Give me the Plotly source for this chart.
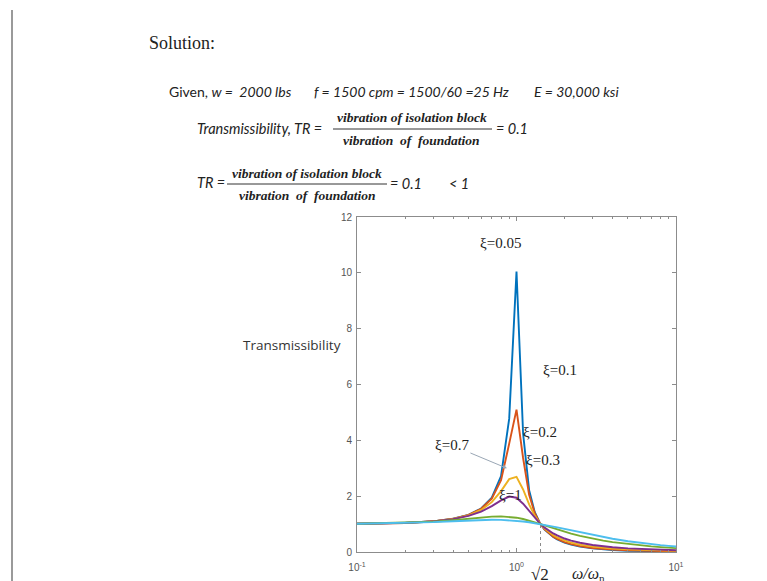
import plotly.graph_objects as go

# page body has an 8px default margin: the figure is placed at (8, 8)
OFF = 8
W, H = 767 - OFF, 581 - OFF

# ---- data ----
freq_ratio = [0.1, 0.2, 0.3, 0.4, 0.5, 0.6, 0.7, 0.8, 0.9, 1.0,
              1.1, 1.2, 1.3, 1.4, 1.5, 1.6, 1.7, 1.8, 1.9, 2.0,
              2.2, 2.5, 3.0, 3.5, 4.0, 5.0, 6.0, 7.0, 8.0, 9.0, 10.0]

tr_z005 = [1.010, 1.042, 1.099, 1.190, 1.332, 1.559, 1.947, 2.720, 4.776, 10.05,
           4.244, 2.208, 1.436, 1.041, 0.803, 0.646, 0.535, 0.452, 0.389, 0.339,
           0.266, 0.196, 0.130, 0.094, 0.072, 0.047, 0.033, 0.025, 0.020, 0.017, 0.014]
tr_z01 = [1.010, 1.042, 1.099, 1.189, 1.328, 1.547, 1.909, 2.571, 3.882, 5.099,
          3.367, 2.052, 1.401, 1.039, 0.812, 0.659, 0.550, 0.469, 0.406, 0.356,
          0.283, 0.212, 0.145, 0.108, 0.085, 0.059, 0.045, 0.036, 0.030, 0.026, 0.023]
tr_z02 = [1.010, 1.041, 1.097, 1.184, 1.314, 1.505, 1.785, 2.180, 2.611, 2.693,
          2.241, 1.704, 1.305, 1.031, 0.841, 0.704, 0.602, 0.524, 0.462, 0.413,
          0.338, 0.265, 0.193, 0.152, 0.125, 0.093, 0.074, 0.062, 0.053, 0.047, 0.042]
tr_z03 = [1.010, 1.041, 1.095, 1.177, 1.293, 1.447, 1.642, 1.849, 1.985, 1.944,
          1.730, 1.460, 1.218, 1.024, 0.873, 0.757, 0.665, 0.592, 0.532, 0.483,
          0.408, 0.330, 0.251, 0.203, 0.171, 0.131, 0.106, 0.090, 0.078, 0.069, 0.061]
tr_z07 = [1.010, 1.039, 1.082, 1.135, 1.190, 1.237, 1.267, 1.276, 1.262, 1.229,
          1.181, 1.126, 1.067, 1.008, 0.952, 0.899, 0.849, 0.804, 0.763, 0.725,
          0.658, 0.577, 0.478, 0.408, 0.355, 0.283, 0.235, 0.201, 0.176, 0.156, 0.140]
tr_z1 = [1.010, 1.036, 1.070, 1.104, 1.131, 1.149, 1.155, 1.151, 1.138, 1.118,
         1.094, 1.066, 1.036, 1.005, 0.973, 0.942, 0.911, 0.881, 0.852, 0.825,
         0.773, 0.703, 0.608, 0.534, 0.474, 0.387, 0.325, 0.281, 0.247, 0.220, 0.198]

series_values = [tr_z005, tr_z01, tr_z02, tr_z03, tr_z07, tr_z1]
series_names = ["ξ=0.05", "ξ=0.1", "ξ=0.2", "ξ=0.3", "ξ=0.7", "ξ=1"]
series_colors = ["#0072BD", "#D95319", "#EDB120", "#7E2F8E", "#77AC30", "#4DBEEE"]

sqrt2_r = [1.4142, 1.4142]
sqrt2_tr = [0.0, 1.0]

y_ticks = [0, 2, 4, 6, 8, 10, 12]
x_ticks = [0.1, 1, 10]
x_ticktext = ["10<sup>-1</sup>", "10<sup>0</sup>", "10<sup>1</sup>"]
x_minor = [0.2, 0.3, 0.4, 0.5, 0.6, 0.7, 0.8, 0.9, 2, 3, 4, 5, 6, 7, 8, 9]

# ---- plot area in reference pixels ----
PL, PR, PT, PB = 357, 676, 217, 552


def fx(px):
    return (px - OFF) / W


def fy(py):
    return 1 - (py - OFF) / H


fig = go.Figure()
for vals, name, col in zip(series_values, series_names, series_colors):
    fig.add_trace(go.Scatter(x=freq_ratio, y=vals, mode="lines", name=name,
                             line=dict(color=col, width=1.9), showlegend=False))

fig.add_trace(go.Scatter(x=sqrt2_r, y=sqrt2_tr, mode="lines", showlegend=False,
                         line=dict(color="#8a8a8a", width=1, dash="dot")))

axis_common = dict(showline=True, linecolor="#8c8c8c", linewidth=1, mirror="ticks",
                   ticks="inside", ticklen=4, tickcolor="#8c8c8c", showgrid=False,
                   zeroline=False, automargin=False)

fig.update_xaxes(type="log", range=[-1, 1], tickvals=x_ticks, ticktext=x_ticktext,
                 domain=[fx(PL), fx(PR)], anchor="y", ticklabelstandoff=6,
                 tickfont=dict(family="Liberation Sans, Arial, sans-serif", size=10, color="#555555"),
                 minor=dict(tickvals=x_minor, ticks="inside", ticklen=2, tickcolor="#8c8c8c"),
                 **axis_common)
fig.update_yaxes(range=[0, 12], tickvals=y_ticks, domain=[fy(PB), fy(PT)], anchor="x",
                 ticklabelstandoff=2,
                 tickfont=dict(family="Liberation Sans, Arial, sans-serif", size=10, color="#555555"),
                 **axis_common)

ann = []
SERIF = "Liberation Serif, Times New Roman, serif"
SANS = "Lato, Open Sans, sans-serif"


def txt(text, x, y, size, family, color="#222222", xanchor="left"):
    ann.append(dict(text=text, x=fx(x), y=fy(y), xref="paper", yref="paper",
                    xanchor=xanchor, yanchor="middle", showarrow=False,
                    font=dict(size=size, family=family, color=color)))


# slide text
txt("Solution:", 147, 43, 18, "Liberation Serif, serif", "#222222")
txt("Given, <i>w =  2000 lbs</i>", 167, 92, 14, SANS)
txt("<i>f = 1500 cpm = 1500/60 =25 Hz</i>", 312, 92, 14, SANS)
txt("<i>E = 30,000 ksi</i>", 532, 92, 14, SANS)

txt("<i>Transmissibility, TR =</i>", 195, 128, 14.5, SANS)
txt("<b><i>vibration of isolation block</i></b>", 412, 118, 13.5, SERIF, xanchor="center")
txt("<b><i>vibration  of  foundation</i></b>", 412, 140, 13.5, SERIF, xanchor="center")
txt("<i>= 0.1</i>", 494, 129, 14.5, SANS)

txt("<i>TR =</i>", 195, 183, 14.5, SANS)
txt("<b><i>vibration of isolation block</i></b>", 307, 173, 13.5, SERIF, xanchor="center")
txt("<b><i>vibration  of  foundation</i></b>", 307, 195, 13.5, SERIF, xanchor="center")
txt("<i>= 0.1</i>", 388, 184, 14.5, SANS)
txt("<i>&lt; 1</i>", 459, 184, 14.5, SANS, xanchor="center")

# chart labels
txt("Transmissibility", 292, 345, 13.5, "Open Sans, sans-serif", "#333333", xanchor="center")
txt("ξ=0.05", 500, 243, 15, SERIF, xanchor="center")
txt("ξ=0.1", 560, 370, 15, SERIF, xanchor="center")
txt("ξ=0.2", 540, 432, 15, SERIF, xanchor="center")
txt("ξ=0.3", 543, 460, 15, SERIF, xanchor="center")
txt("ξ=1", 510, 495, 15, SERIF, xanchor="center")
txt("√2", 540, 574, 17, SERIF, xanchor="center")
txt("<i>ω/ω</i><sub>n</sub>", 588, 574, 16, SERIF, xanchor="center")

# arrow label for ξ=0.7 (log axis: x given as log10 of the ratio)
ann.append(dict(text="ξ=0.7", x=-0.06, y=3.0, xref="x", yref="y", showarrow=True,
                ax=-55, ay=-23, arrowhead=2, arrowsize=0.8, arrowwidth=1,
                arrowcolor="#9aa7b5", font=dict(size=15, family=SERIF, color="#222222")))

shapes = [
    dict(type="line", xref="paper", yref="paper", x0=fx(333), x1=fx(492), y0=fy(129), y1=fy(129),
         line=dict(color="#333333", width=1)),
    dict(type="line", xref="paper", yref="paper", x0=fx(227), x1=fx(387), y0=fy(184), y1=fy(184),
         line=dict(color="#333333", width=1)),
    dict(type="line", xref="paper", yref="paper", x0=fx(12), x1=fx(12), y0=fy(10), y1=fy(581),
         line=dict(color="#9a9a9a", width=2)),
]

fig.update_layout(width=W, height=H, margin=dict(l=0, r=0, t=0, b=0),
                  paper_bgcolor="white", plot_bgcolor="white",
                  annotations=ann, shapes=shapes, showlegend=False)

fig.write_html("out.html")
